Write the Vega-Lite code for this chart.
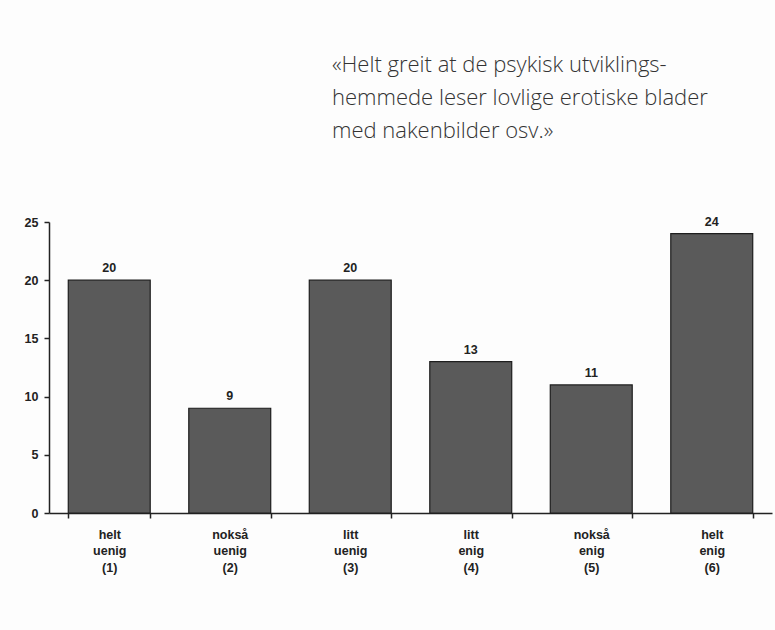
{
  "$schema": "https://vega.github.io/schema/vega-lite/v6.json",
  "width": 723,
  "height": 291,
  "autosize": {"type": "none"},
  "padding": {"left": 49, "top": 222, "right": 3, "bottom": 117},
  "background": "#fdfdfd",
  "title": {
    "text": ["«Helt greit at de psykisk utviklings-", "hemmede leser lovlige erotiske blader", "med nakenbilder osv.»"],
    "anchor": "start",
    "frame": "group",
    "dx": 283,
    "offset": 73,
    "font": "Open Sans",
    "fontSize": 22,
    "fontWeight": 300,
    "color": "#333333",
    "lineHeight": 33
  },
  "data": {
    "values": [
      {"svar": "helt|uenig|(1)", "prosent": 20},
      {"svar": "nokså|uenig|(2)", "prosent": 9},
      {"svar": "litt|uenig|(3)", "prosent": 20},
      {"svar": "litt|enig|(4)", "prosent": 13},
      {"svar": "nokså|enig|(5)", "prosent": 11},
      {"svar": "helt|enig|(6)", "prosent": 24}
    ]
  },
  "encoding": {
    "x": {
      "field": "svar",
      "type": "nominal",
      "sort": null,
      "scale": {"paddingInner": 0.32, "paddingOuter": 0.16},
      "axis": {
        "title": null,
        "labelAngle": 0,
        "labelExpr": "isString(datum.value) ? split(datum.value, '|') : ''",
        "labelFont": "Liberation Sans",
        "labelFontWeight": "bold",
        "labelFontSize": 12.5,
        "labelColor": "#222222",
        "labelLineHeight": 16.5,
        "labelPadding": 10,
        "tickBand": "extent",
        "tickSize": 5,
        "tickColor": "#222222",
        "tickWidth": 1.5,
        "domainColor": "#222222",
        "domainWidth": 1.5
      }
    },
    "y": {
      "field": "prosent",
      "type": "quantitative",
      "scale": {"domain": [0, 25], "nice": false},
      "axis": {
        "title": null,
        "values": [0, 5, 10, 15, 20, 25],
        "grid": false,
        "labelFont": "Liberation Sans",
        "labelFontWeight": "bold",
        "labelFontSize": 12.5,
        "labelColor": "#222222",
        "labelPadding": 6,
        "tickSize": 5,
        "tickColor": "#222222",
        "tickWidth": 1.5,
        "domainColor": "#222222",
        "domainWidth": 1.5
      }
    }
  },
  "layer": [
    {
      "mark": {"type": "bar", "fill": "#5a5a5a", "stroke": "#1e1e1e", "strokeWidth": 1.2}
    },
    {
      "mark": {"type": "text", "dy": -8, "baseline": "alphabetic", "font": "Liberation Sans", "fontWeight": "bold", "fontSize": 12.5, "color": "#222222"},
      "encoding": {"text": {"field": "prosent", "type": "quantitative"}}
    }
  ],
  "config": {"view": {"stroke": null}}
}
